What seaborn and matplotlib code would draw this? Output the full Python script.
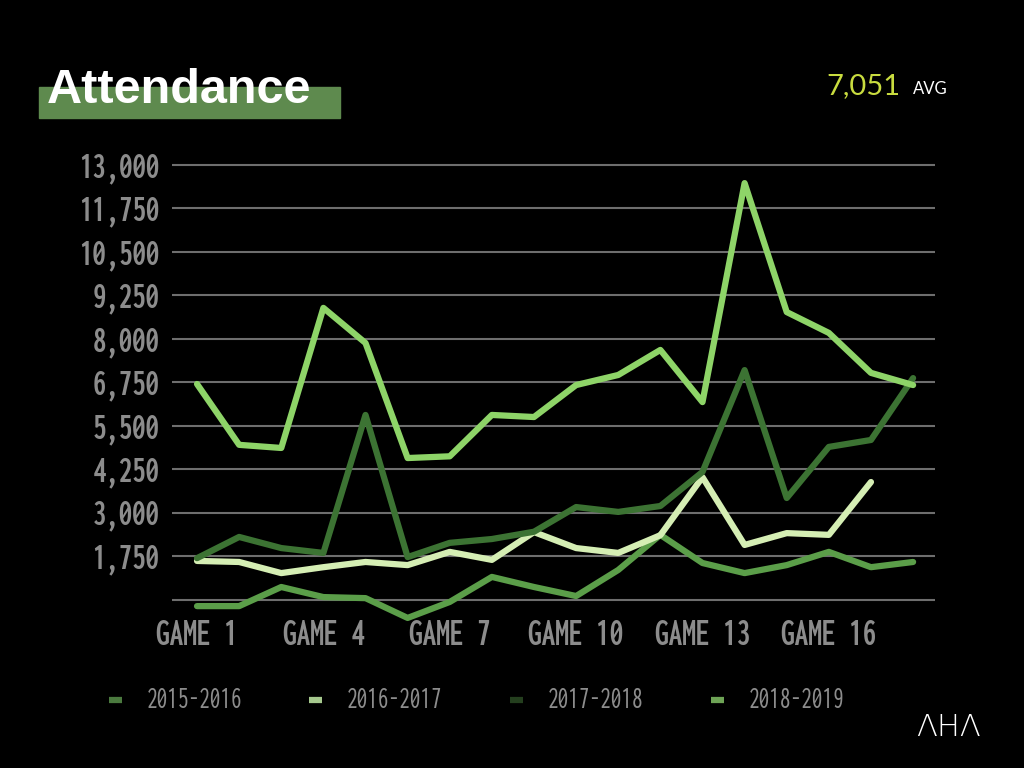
import numpy as np
import pandas as pd
import seaborn as sns
from matplotlib import pyplot as plt
from matplotlib import font_manager
from matplotlib.patches import Rectangle
from matplotlib.lines import Line2D

# Attendance per home game
games = list(range(1, 19))
season_2015_16 = [310, 310, 860, 570, 540, -30, 430, 1150, 860, 600, 1350, 2360, 1550, 1260, 1490, 1870, 1430, 1580]
season_2016_17 = [1610, 1580, 1260, 1430, 1580, 1490, 1870, 1640, 2440, 1980, 1840, 2350, 4020, 2070, 2410, 2360, 3880]
season_2017_18 = [1690, 2300, 1980, 1840, 5810, 1720, 2130, 2240, 2450, 3160, 3020, 3190, 4170, 7100, 3420, 4890, 5090, 6870]
season_2018_19 = [6700, 4950, 4860, 8890, 7880, 4570, 4620, 5810, 5750, 6670, 6960, 7680, 6180, 12480, 8770, 8170, 7020, 6670]

seasons = ["2015-2016", "2016-2017", "2017-2018", "2018-2019"]
colors = ["#5b9e49", "#d5eeb4", "#3c7333", "#8ed468"]
legend_colors = ["#4b7a3f", "#a6c98e", "#243f1e", "#6ea456"]

ytick_values = list(range(500, 13001, 1250))
ytick_labels = ["" if v == 500 else f"{v:,}" for v in ytick_values]
xtick_values = [1, 4, 7, 10, 13, 16]
xtick_labels = [f"GAME {g}" for g in xtick_values]

rows = []
for name, vals in zip(seasons, [season_2015_16, season_2016_17, season_2017_18, season_2018_19]):
    for g, v in zip(games, vals):
        rows.append({"game": g, "attendance": v, "season": name})
df = pd.DataFrame(rows)


def pick_font(keys, must_have, fallback):
    # look for a narrow (not monospaced) face on the system, else a normal one
    files = sorted(font_manager.findSystemFonts())
    for key in keys:
        for f in files:
            name = f.split("/")[-1].lower()
            if "mono" in name or "italic" in name or "serif" in name:
                continue
            if key in name and all(m(name) for m in must_have):
                return font_manager.FontProperties(fname=f)
    return font_manager.FontProperties(family=fallback[0], weight=fallback[1])


narrow_bold = pick_font(["extracondensedbold", "extracondensed-bold", "extracondensedsemibold",
                         "narrow-bold", "condensedbold", "condensed-bold", "condensedsemibold"],
                        [lambda n: "extrabold" not in n], ("DejaVu Sans", "bold"))
narrow_reg = pick_font(["extracondensed.", "narrow-regular", "condensed.", "condensed-regular"],
                       [lambda n: "bold" not in n], ("DejaVu Sans", "normal"))

sns.set_style("dark")
plt.rcParams["font.family"] = ["DejaVu Sans"]

fig = plt.figure(figsize=(10.24, 7.68), dpi=100, facecolor="black")
ax = fig.add_axes([172 / 1024, 1 - 644.7 / 768, (935 - 172) / 1024, (644.7 - 154.6) / 768])
ax.set_facecolor("black")

for v in ytick_values:
    ax.axhline(v, color="#6e6e6e", lw=1.5, zorder=1)

sns.lineplot(data=df, x="game", y="attendance", hue="season", hue_order=seasons,
             palette=colors, linewidth=4.5, legend=False, ax=ax, zorder=3)

ax.set_xlim(0.406, 18.52)
ax.set_ylim(-800, 13300)
ax.set_yticks(ytick_values)
ax.set_yticklabels(ytick_labels)
ax.set_xticks(xtick_values)
ax.set_xticklabels(xtick_labels)
ax.tick_params(axis="y", length=0, pad=9, labelcolor="#8c8c8c")
ax.tick_params(axis="x", length=0, pad=-7, labelcolor="#8c8c8c")
for lbl in ax.get_xticklabels() + ax.get_yticklabels():
    lbl.set_fontproperties(narrow_bold)
    lbl.set_fontsize(24)
ax.set_xlabel("")
ax.set_ylabel("")
ax.grid(False)
for s in ax.spines.values():
    s.set_visible(False)

# legend, laid out by hand to match the slide spacing
legend_x = [109, 309, 510, 711]
legend_texts = []
for x0, name, c in zip(legend_x, seasons, legend_colors):
    fig.lines.append(Line2D([x0 / 1024, (x0 + 13) / 1024], [1 - 700 / 768] * 2, transform=fig.transFigure,
                            color=c, lw=4.5, solid_capstyle="butt"))
    legend_texts.append(fig.text((x0 + 38) / 1024, 1 - 700 / 768, name, color="#8c8c8c",
                                 fontproperties=narrow_reg, fontsize=18, va="center", ha="left"))

# scale the narrow texts so they are about as wide as on the slide
fig.canvas.draw()
renderer = fig.canvas.get_renderer()
y_w = ax.get_yticklabels()[-1].get_window_extent(renderer).width
x_w = ax.get_xticklabels()[3].get_window_extent(renderer).width
l_w = legend_texts[0].get_window_extent(renderer).width
y_size = min(28, 24 * 80 / y_w)
x_size = min(28, 24 * 100 / x_w)
l_size = min(22, 18 * 122 / l_w)
for lbl in ax.get_yticklabels():
    lbl.set_fontsize(y_size)
for lbl in ax.get_xticklabels():
    lbl.set_fontsize(x_size)
    lbl.set_verticalalignment("center")
for t in legend_texts:
    t.set_fontsize(l_size)

# title block
fig.patches.append(Rectangle((39 / 1024, 1 - 118 / 768), (340 - 39) / 1024, 31 / 768,
                             transform=fig.transFigure, color="#5e8a4e", zorder=0))
fig.text(47 / 1024, 1 - 103 / 768, "Attendance", color="white", fontsize=35, fontweight="bold",
         family="Liberation Sans", va="baseline", ha="left")

fig.text(826 / 1024, 1 - 94 / 768, "7,051", color="#c9dc3f", fontsize=21, family="Lato",
         va="baseline", ha="left")
fig.text(913 / 1024, 1 - 94 / 768, "AVG", color="white", fontsize=12, family="Lato",
         va="baseline", ha="left")

fig.text(948 / 1024, 1 - 727 / 768, "\u039bH\u039b", color="white", fontsize=22, family="DejaVu Sans",
         fontweight="light", va="center", ha="center")

fig.savefig("out.png", dpi=100, facecolor="black")
